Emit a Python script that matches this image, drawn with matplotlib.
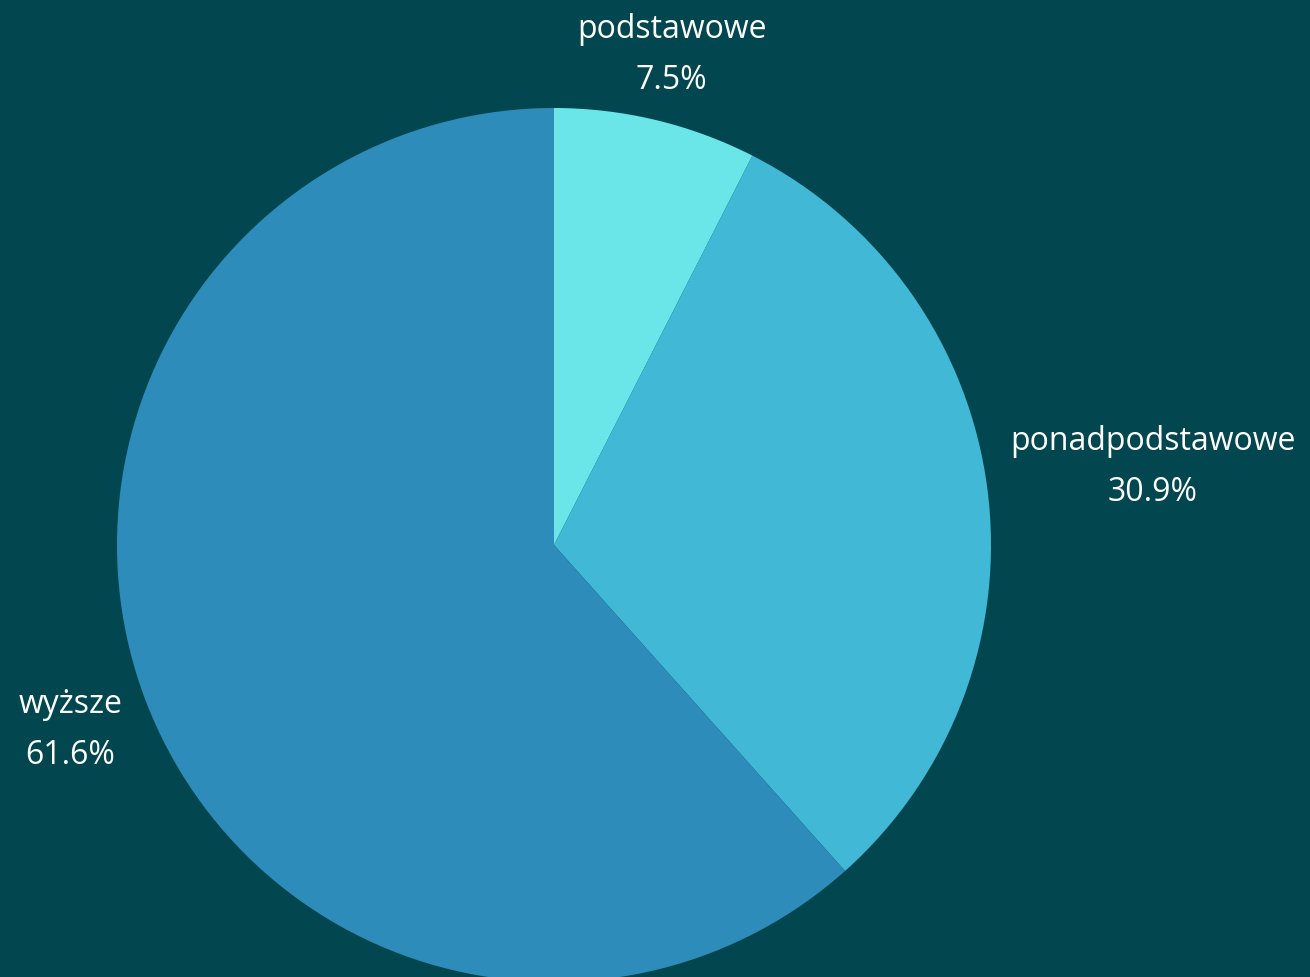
import numpy as np
import matplotlib
matplotlib.use("Agg")
import matplotlib.pyplot as plt

categories = ["podstawowe", "ponadpodstawowe", "wyższe"]
values = [7.5, 30.9, 61.6]
colors = ["#6ae6e8", "#41b8d6", "#2e8cba"]
label_dist = [1.152, 1.382, 1.185]

W, H = 1310, 977
bg = "#02474f"
fig = plt.figure(figsize=(W / 100, H / 100), dpi=100, facecolor=bg)
ax = fig.add_axes([0, 0, 1, 1])
ax.set_facecolor(bg)

cx, cy, r = 554, H - 545, 437
wedges, _ = ax.pie(values, colors=colors, startangle=90, counterclock=False,
                   center=(cx, cy), radius=r,
                   wedgeprops=dict(linewidth=0))

cum = np.cumsum([0] + values[:-1])
total = sum(values)
for cat, v, c0, d in zip(categories, values, cum, label_dist):
    ang = np.deg2rad(90 - (c0 + v / 2) / total * 360)
    x = cx + r * d * np.cos(ang)
    y = cy + r * d * np.sin(ang)
    ax.text(x, y, f"{cat}\n{v:.1f}%", ha="center", va="center",
            color="white", fontsize=23, family=["Open Sans", "DejaVu Sans"],
            linespacing=1.72)

ax.set_xlim(0, W)
ax.set_ylim(0, H)
ax.set_aspect("equal")
ax.axis("off")
fig.savefig("out.png", dpi=100, facecolor=bg)
